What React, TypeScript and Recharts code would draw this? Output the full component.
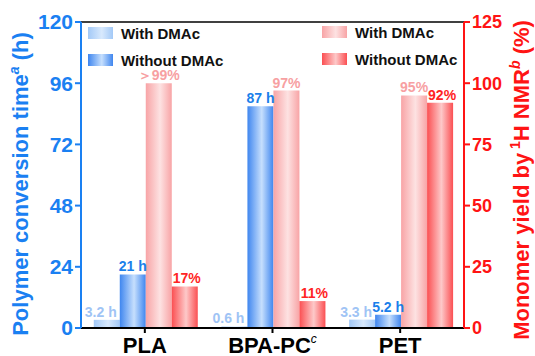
import { Bar, BarChart, Customized, LabelList, ReferenceLine, XAxis, YAxis } from "recharts";

const polymers = ["PLA", "BPA-PC", "PET"];
const timeWithDmac = [3.2, 0.6, 3.3];
const timeWithoutDmac = [21, 87, 5.2];
const yieldWithDmac = [100, 97, 95];
const yieldWithoutDmac = [17, 11, 92];
const yieldWithText = ["＞99%", "97%", "95%"];
const timeTicks = [0, 24, 48, 72, 96, 120];
const yieldTicks = [0, 25, 50, 75, 100, 125];

const FONT = '"Liberation Sans", Arial, sans-serif';
const BLUE = "#1a80f2";
const RED = "#ff1414";

const rows = polymers.map((name, i) => ({
    name,
    timeWith: timeWithDmac[i],
    timeWithout: timeWithoutDmac[i],
    yieldWith: yieldWithDmac[i],
    yieldWithout: yieldWithoutDmac[i],
    timeWithText: `${timeWithDmac[i]} h`,
    timeWithoutText: `${timeWithoutDmac[i]} h`,
    yieldWithText: yieldWithText[i],
    yieldWithoutText: `${yieldWithoutDmac[i]}%`,
}));

function barLabel(color: string, dx = 0) {
    return (props: any) => {
        const { x, y, width, value } = props;
        return (
            <text
                x={Number(x) + Number(width) / 2 + dx}
                y={Number(y) - 3}
                textAnchor="middle"
                fill={color}
                fontFamily={FONT}
                fontWeight="bold"
                fontSize={14}
            >
                {value}
            </text>
        );
    };
}

function CategoryTick(props: any) {
    const { x, y, payload } = props;
    const isPc = payload.value === "BPA-PC";
    return (
        <text
            x={x}
            y={y + 18}
            textAnchor="middle"
            fill="#000"
            fontFamily={FONT}
            fontWeight="bold"
            fontSize={22}
        >
            {payload.value}
            {isPc && (
                <tspan fontSize={12} fontStyle="italic" fontWeight="normal" dy={-10}>
                    c
                </tspan>
            )}
        </text>
    );
}

function Swatch({ x, y, grad, label }: { x: number; y: number; grad: string; label: string }) {
    return (
        <g>
            <rect x={x} y={y} width={25} height={12} fill={`url(#${grad})`} />
            <text x={x + 33} y={y + 12} fontFamily={FONT} fontWeight="bold" fontSize={15} fill="#111">
                {label}
            </text>
        </g>
    );
}

function Decorations() {
    return (
        <g>
            <Swatch x={88} y={27} grad="gTimeWith" label="With DMAc" />
            <Swatch x={88} y={54} grad="gTimeWithout" label="Without DMAc" />
            <Swatch x={322} y={26} grad="gYieldWith" label="With DMAc" />
            <Swatch x={322} y={53} grad="gYieldWithout" label="Without DMAc" />
            <text
                transform="translate(28,184) rotate(-90)"
                textAnchor="middle"
                fill={BLUE}
                fontFamily={FONT}
                fontWeight="bold"
                fontSize={22}
            >
                Polymer conversion time
                <tspan fontSize={14} fontStyle="italic" dy={-9}>a</tspan>
                <tspan dy={9}> (h)</tspan>
            </text>
            <text
                transform="translate(529,180) rotate(-90)"
                textAnchor="middle"
                fill={RED}
                fontFamily={FONT}
                fontWeight="bold"
                fontSize={22}
            >
                Monomer yield by
                <tspan fontSize={14} dy={-9}> 1</tspan>
                <tspan dy={9}>H NMR</tspan>
                <tspan fontSize={14} fontStyle="italic" dy={-9}>b</tspan>
                <tspan dy={9}> (%)</tspan>
            </text>
        </g>
    );
}

function Gradient({ id, edge, mid }: { id: string; edge: string; mid: string }) {
    return (
        <linearGradient id={id} x1="0" y1="0" x2="1" y2="0">
            <stop offset="0%" stopColor={edge} />
            <stop offset="55%" stopColor={mid} />
            <stop offset="100%" stopColor={edge} />
        </linearGradient>
    );
}

export default function App() {
    return (
        <div style={{ position: "absolute", left: 0, top: 0, background: "#fff" }}>
            <BarChart
                width={535}
                height={356}
                data={rows}
                margin={{ top: 22, right: 20, bottom: 0, left: 20 }}
                barCategoryGap="10%"
                barGap={0}
            >
                <defs>
                    <Gradient id="gTimeWith" edge="#a3c9f7" mid="#d8e9fd" />
                    <Gradient id="gTimeWithout" edge="#3f86ef" mid="#c6dffd" />
                    <Gradient id="gYieldWith" edge="#f8a4a6" mid="#fde2e2" />
                    <Gradient id="gYieldWithout" edge="#fb4f52" mid="#fdc9c9" />
                </defs>

                <XAxis
                    dataKey="name"
                    height={28}
                    axisLine={{ stroke: "#000", strokeWidth: 2 }}
                    tickLine={{ stroke: "#000", strokeWidth: 2 }}
                    tickSize={5}
                    tick={<CategoryTick />}
                    interval={0}
                />

                <YAxis
                    yAxisId="left"
                    width={61}
                    domain={[0, 120]}
                    ticks={timeTicks}
                    allowDataOverflow
                    axisLine={{ stroke: BLUE, strokeWidth: 2 }}
                    tickLine={{ stroke: BLUE, strokeWidth: 2 }}
                    tickSize={6}
                    tick={{ fill: BLUE, fontFamily: FONT, fontWeight: "bold", fontSize: 21 }}
                />

                <YAxis
                    yAxisId="right"
                    orientation="right"
                    width={51}
                    domain={[0, 125]}
                    ticks={yieldTicks}
                    axisLine={{ stroke: RED, strokeWidth: 2 }}
                    tickLine={{ stroke: RED, strokeWidth: 2 }}
                    tickSize={6}
                    tick={{ fill: RED, fontFamily: FONT, fontWeight: "bold", fontSize: 18 }}
                />

                <ReferenceLine yAxisId="left" y={120} stroke="#000" strokeWidth={1.5} />

                <Bar yAxisId="left" dataKey="timeWith" fill="url(#gTimeWith)" isAnimationActive={false}>
                    <LabelList dataKey="timeWithText" content={barLabel("#9fc4f5", -6)} />
                </Bar>
                <Bar yAxisId="left" dataKey="timeWithout" fill="url(#gTimeWithout)" isAnimationActive={false}>
                    <LabelList dataKey="timeWithoutText" content={barLabel("#1a7fea")} />
                </Bar>
                <Bar yAxisId="right" dataKey="yieldWith" fill="url(#gYieldWith)" isAnimationActive={false}>
                    <LabelList dataKey="yieldWithText" content={barLabel("#f7a0a2")} />
                </Bar>
                <Bar yAxisId="right" dataKey="yieldWithout" fill="url(#gYieldWithout)" isAnimationActive={false}>
                    <LabelList dataKey="yieldWithoutText" content={barLabel("#ff2424", 2)} />
                </Bar>

                <Customized component={Decorations} />
            </BarChart>
        </div>
    );
}
